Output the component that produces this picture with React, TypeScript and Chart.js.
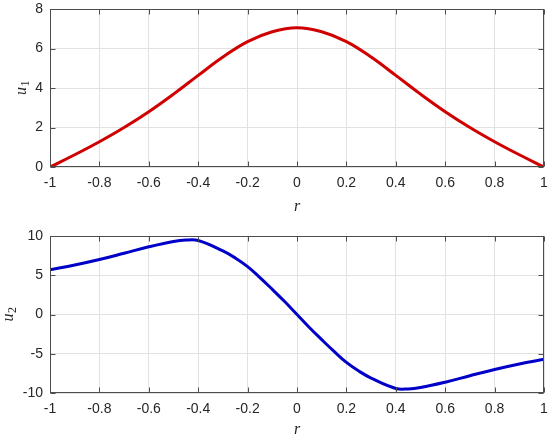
import React, { useEffect, useRef } from "react";
import { Chart, registerables } from "chart.js";

Chart.register(...registerables);

// ---- data ----
const r1 = [-1, -0.9, -0.8, -0.7, -0.6, -0.5, -0.4, -0.3, -0.2, -0.1, 0, 0.1, 0.2, 0.3, 0.4, 0.5, 0.6, 0.7, 0.8, 0.9, 1];
const u1 = [0, 0.62, 1.28, 2.0, 2.8, 3.69, 4.64, 5.57, 6.35, 6.85, 7.05, 6.85, 6.35, 5.57, 4.64, 3.69, 2.8, 2.0, 1.28, 0.62, 0];

const r2 = [-1, -0.9, -0.8, -0.7, -0.6, -0.5, -0.45, -0.4, -0.3, -0.25, -0.2, -0.15, -0.1, -0.05, 0, 0.05, 0.1, 0.15, 0.2, 0.25, 0.3, 0.4, 0.45, 0.5, 0.6, 0.7, 0.8, 0.9, 1];
const u2 = [5.7, 6.3, 7.0, 7.8, 8.62, 9.3, 9.48, 9.42, 8.1, 7.2, 6.1, 4.7, 3.2, 1.65, 0, -1.65, -3.2, -4.7, -6.1, -7.2, -8.1, -9.42, -9.48, -9.3, -8.62, -7.8, -7.0, -6.3, -5.7];

const xTicks = [-1, -0.8, -0.6, -0.4, -0.2, 0, 0.2, 0.4, 0.6, 0.8, 1];
const u1Ticks = [0, 2, 4, 6, 8];
const u2Ticks = [-10, -5, 0, 5, 10];

const AXIS_COLOR = "#4d4d4d";
const TEXT_COLOR = "#262626";
const GRID_COLOR = "#e2e2e2";
const SANS = '"Liberation Sans", Arial, sans-serif';
const SERIF = '"Liberation Serif", "Times New Roman", serif';

const matlabBox = {
  id: "matlabBox",
  afterDatasetsDraw(chart: any, _args: any, o: any) {
    const ctx = chart.ctx as CanvasRenderingContext2D;
    const { left, right, top, bottom } = chart.chartArea;
    const xs = chart.scales.x;
    const ys = chart.scales.y;
    ctx.save();
    ctx.strokeStyle = AXIS_COLOR;
    ctx.lineWidth = 1;
    const L = Math.round(left) + 0.5;
    const R = Math.round(right) - 0.5;
    const T = Math.round(top) + 0.5;
    const B = Math.round(bottom) - 0.5;
    ctx.strokeRect(L, T, R - L, B - T);
    const tl = 5;
    ctx.beginPath();
    for (const v of o.xTicks) {
      const p = Math.round(xs.getPixelForValue(v)) + 0.5;
      ctx.moveTo(p, B);
      ctx.lineTo(p, B - tl);
      ctx.moveTo(p, T);
      ctx.lineTo(p, T + tl);
    }
    for (const v of o.yTicks) {
      const p = Math.round(ys.getPixelForValue(v)) + 0.5;
      ctx.moveTo(L, p);
      ctx.lineTo(L + tl, p);
      ctx.moveTo(R, p);
      ctx.lineTo(R - tl, p);
    }
    ctx.stroke();

    // x label "r"
    ctx.fillStyle = TEXT_COLOR;
    ctx.font = "italic 16px " + SERIF;
    ctx.textAlign = "center";
    ctx.textBaseline = "middle";
    ctx.fillText("r", (left + right) / 2, o.xLabelY);

    // y label u_sub
    ctx.translate(o.yLabelX, (top + bottom) / 2);
    ctx.rotate(-Math.PI / 2);
    ctx.font = "italic 16px " + SERIF;
    const wu = ctx.measureText("u").width;
    ctx.font = "12px " + SERIF;
    const ws = ctx.measureText(o.sub).width;
    const start = -(wu + ws) / 2;
    ctx.textAlign = "left";
    ctx.textBaseline = "alphabetic";
    ctx.font = "italic 16px " + SERIF;
    ctx.fillText("u", start, 4);
    ctx.font = "12px " + SERIF;
    ctx.fillText(o.sub, start + wu + 0.5, 7);
    ctx.restore();
  },
};

function makeConfig(
  xs: number[],
  ys: number[],
  color: string,
  yTicks: number[],
  sub: string,
  layout: { top: number; xHeight: number; yLabelX: number; xLabelY: number }
): any {
  return {
    type: "line",
    data: {
      datasets: [
        {
          data: xs.map((x, i) => ({ x, y: ys[i] })),
          borderColor: color,
          borderWidth: 3,
          pointRadius: 0,
          fill: false,
          tension: 0.4,
          borderJoinStyle: "round",
        },
      ],
    },
    options: {
      responsive: false,
      animation: false,
      events: [],
      layout: { padding: { top: layout.top, right: 6, left: 0, bottom: 0 } },
      plugins: {
        legend: { display: false },
        tooltip: { enabled: false },
        matlabBox: { xTicks, yTicks, sub, yLabelX: layout.yLabelX, xLabelY: layout.xLabelY },
      },
      scales: {
        x: {
          type: "linear",
          min: -1,
          max: 1,
          afterBuildTicks: (s: any) => {
            s.ticks = xTicks.map((v) => ({ value: v }));
          },
          afterFit: (s: any) => {
            s.height = layout.xHeight;
            s.paddingLeft = 0;
            s.paddingRight = 0;
          },
          border: { display: false },
          grid: { color: GRID_COLOR, drawTicks: false },
          ticks: {
            color: TEXT_COLOR,
            font: { family: SANS, size: 14 },
            padding: 8,
            maxRotation: 0,
            autoSkip: false,
            callback: (v: any) => String(v),
          },
        },
        y: {
          type: "linear",
          min: yTicks[0],
          max: yTicks[yTicks.length - 1],
          afterBuildTicks: (s: any) => {
            s.ticks = yTicks.map((v) => ({ value: v }));
          },
          afterFit: (s: any) => {
            s.width = 50;
            s.paddingTop = 0;
            s.paddingBottom = 0;
          },
          border: { display: false },
          grid: { color: GRID_COLOR, drawTicks: false },
          ticks: {
            color: TEXT_COLOR,
            font: { family: SANS, size: 14 },
            padding: 7,
            autoSkip: false,
            callback: (v: any) => String(v),
          },
        },
      },
    },
    plugins: [matlabBox],
  };
}

function Panel(props: { cfg: any }) {
  const ref = useRef<HTMLCanvasElement | null>(null);
  useEffect(() => {
    if (!ref.current) return;
    const chart = new Chart(ref.current, props.cfg);
    return () => chart.destroy();
  }, []);
  return <canvas ref={ref} width={550} height={220} style={{ display: "block", width: 550, height: 220 }} />;
}

export default function App() {
  const top = makeConfig(r1, u1, "#d00000", u1Ticks, "1", { top: 9, xHeight: 53, yLabelX: 22, xLabelY: 207 });
  const bottom = makeConfig(r2, u2, "#0000c8", u2Ticks, "2", { top: 16, xHeight: 47, yLabelX: 9, xLabelY: 210 });
  return (
    <div style={{ position: "absolute", left: 0, top: 0, width: 550, height: 440, background: "#fff" }}>
      <Panel cfg={top} />
      <Panel cfg={bottom} />
    </div>
  );
}
